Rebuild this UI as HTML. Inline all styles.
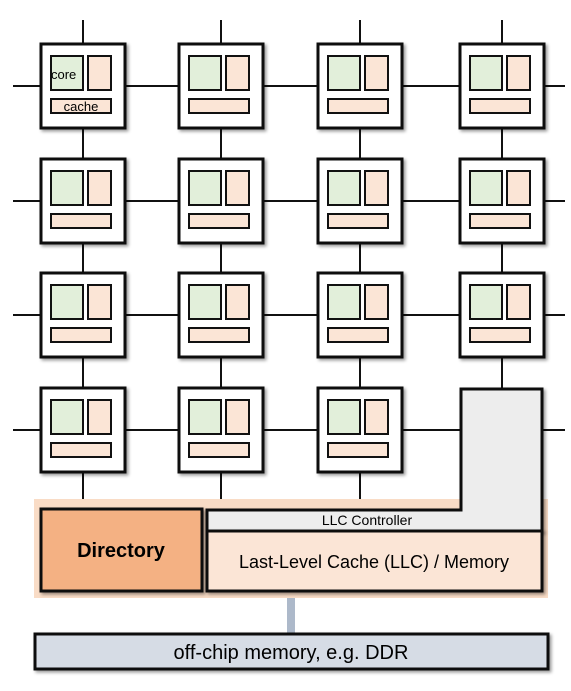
<!DOCTYPE html>
<html><head><style>body{margin:0;background:#fff}svg{display:block}</style></head><body>
<svg width="571" height="691" viewBox="0 0 571 691" xmlns="http://www.w3.org/2000/svg" font-family="'Liberation Sans', sans-serif">
<defs><filter id="s" x="-10%" y="-10%" width="130%" height="130%"><feDropShadow dx="2" dy="2" stdDeviation="1.5" flood-opacity="0.4"/></filter></defs>
<!-- grid lines -->
<g stroke="#111" stroke-width="2">
<line x1="13" y1="86" x2="565" y2="86"/>
<line x1="13" y1="201" x2="565" y2="201"/>
<line x1="13" y1="315" x2="565" y2="315"/>
<line x1="13" y1="430" x2="565" y2="430"/>
<line x1="83" y1="20" x2="83" y2="500"/>
<line x1="221" y1="20" x2="221" y2="500"/>
<line x1="360" y1="20" x2="360" y2="500"/>
<line x1="502" y1="20" x2="502" y2="390"/>
</g>
<!-- orange background -->
<rect x="34" y="499" width="514" height="99" fill="#f9dcc6"/>
<!-- tiles -->
<g id="tiles">
</g>
<script>
</script>
<g>
<!-- row loop expanded manually -->
</g>
<g stroke="#111">
<!-- tile template repeated -->
</g>
<g id="T">
</g>
<!-- Tiles -->
<g stroke="#111" stroke-width="3">
</g>
<g>
<g transform="translate(41,44)"><rect width="84" height="84" fill="#fff" stroke="#111" stroke-width="3" filter="url(#s)"/><rect x="10" y="12" width="32" height="34" fill="#e2efda" stroke="#111" stroke-width="2"/><rect x="47" y="12" width="23" height="34" fill="#fbe5d6" stroke="#111" stroke-width="2"/><rect x="10" y="55" width="60" height="14" fill="#fbe5d6" stroke="#111" stroke-width="2"/><text x="10" y="35" font-size="13">core</text><text x="40" y="67" font-size="13" text-anchor="middle">cache</text></g>
<g transform="translate(179,44)"><rect width="84" height="84" fill="#fff" stroke="#111" stroke-width="3" filter="url(#s)"/><rect x="10" y="12" width="32" height="34" fill="#e2efda" stroke="#111" stroke-width="2"/><rect x="47" y="12" width="23" height="34" fill="#fbe5d6" stroke="#111" stroke-width="2"/><rect x="10" y="55" width="60" height="14" fill="#fbe5d6" stroke="#111" stroke-width="2"/></g>
<g transform="translate(318,44)"><rect width="84" height="84" fill="#fff" stroke="#111" stroke-width="3" filter="url(#s)"/><rect x="10" y="12" width="32" height="34" fill="#e2efda" stroke="#111" stroke-width="2"/><rect x="47" y="12" width="23" height="34" fill="#fbe5d6" stroke="#111" stroke-width="2"/><rect x="10" y="55" width="60" height="14" fill="#fbe5d6" stroke="#111" stroke-width="2"/></g>
<g transform="translate(460,44)"><rect width="84" height="84" fill="#fff" stroke="#111" stroke-width="3" filter="url(#s)"/><rect x="10" y="12" width="32" height="34" fill="#e2efda" stroke="#111" stroke-width="2"/><rect x="47" y="12" width="23" height="34" fill="#fbe5d6" stroke="#111" stroke-width="2"/><rect x="10" y="55" width="60" height="14" fill="#fbe5d6" stroke="#111" stroke-width="2"/></g>

<g transform="translate(41,159)"><rect width="84" height="84" fill="#fff" stroke="#111" stroke-width="3" filter="url(#s)"/><rect x="10" y="12" width="32" height="34" fill="#e2efda" stroke="#111" stroke-width="2"/><rect x="47" y="12" width="23" height="34" fill="#fbe5d6" stroke="#111" stroke-width="2"/><rect x="10" y="55" width="60" height="14" fill="#fbe5d6" stroke="#111" stroke-width="2"/></g>
<g transform="translate(179,159)"><rect width="84" height="84" fill="#fff" stroke="#111" stroke-width="3" filter="url(#s)"/><rect x="10" y="12" width="32" height="34" fill="#e2efda" stroke="#111" stroke-width="2"/><rect x="47" y="12" width="23" height="34" fill="#fbe5d6" stroke="#111" stroke-width="2"/><rect x="10" y="55" width="60" height="14" fill="#fbe5d6" stroke="#111" stroke-width="2"/></g>
<g transform="translate(318,159)"><rect width="84" height="84" fill="#fff" stroke="#111" stroke-width="3" filter="url(#s)"/><rect x="10" y="12" width="32" height="34" fill="#e2efda" stroke="#111" stroke-width="2"/><rect x="47" y="12" width="23" height="34" fill="#fbe5d6" stroke="#111" stroke-width="2"/><rect x="10" y="55" width="60" height="14" fill="#fbe5d6" stroke="#111" stroke-width="2"/></g>
<g transform="translate(460,159)"><rect width="84" height="84" fill="#fff" stroke="#111" stroke-width="3" filter="url(#s)"/><rect x="10" y="12" width="32" height="34" fill="#e2efda" stroke="#111" stroke-width="2"/><rect x="47" y="12" width="23" height="34" fill="#fbe5d6" stroke="#111" stroke-width="2"/><rect x="10" y="55" width="60" height="14" fill="#fbe5d6" stroke="#111" stroke-width="2"/></g>

<g transform="translate(41,273)"><rect width="84" height="84" fill="#fff" stroke="#111" stroke-width="3" filter="url(#s)"/><rect x="10" y="12" width="32" height="34" fill="#e2efda" stroke="#111" stroke-width="2"/><rect x="47" y="12" width="23" height="34" fill="#fbe5d6" stroke="#111" stroke-width="2"/><rect x="10" y="55" width="60" height="14" fill="#fbe5d6" stroke="#111" stroke-width="2"/></g>
<g transform="translate(179,273)"><rect width="84" height="84" fill="#fff" stroke="#111" stroke-width="3" filter="url(#s)"/><rect x="10" y="12" width="32" height="34" fill="#e2efda" stroke="#111" stroke-width="2"/><rect x="47" y="12" width="23" height="34" fill="#fbe5d6" stroke="#111" stroke-width="2"/><rect x="10" y="55" width="60" height="14" fill="#fbe5d6" stroke="#111" stroke-width="2"/></g>
<g transform="translate(318,273)"><rect width="84" height="84" fill="#fff" stroke="#111" stroke-width="3" filter="url(#s)"/><rect x="10" y="12" width="32" height="34" fill="#e2efda" stroke="#111" stroke-width="2"/><rect x="47" y="12" width="23" height="34" fill="#fbe5d6" stroke="#111" stroke-width="2"/><rect x="10" y="55" width="60" height="14" fill="#fbe5d6" stroke="#111" stroke-width="2"/></g>
<g transform="translate(460,273)"><rect width="84" height="84" fill="#fff" stroke="#111" stroke-width="3" filter="url(#s)"/><rect x="10" y="12" width="32" height="34" fill="#e2efda" stroke="#111" stroke-width="2"/><rect x="47" y="12" width="23" height="34" fill="#fbe5d6" stroke="#111" stroke-width="2"/><rect x="10" y="55" width="60" height="14" fill="#fbe5d6" stroke="#111" stroke-width="2"/></g>

<g transform="translate(41,388)"><rect width="84" height="84" fill="#fff" stroke="#111" stroke-width="3" filter="url(#s)"/><rect x="10" y="12" width="32" height="34" fill="#e2efda" stroke="#111" stroke-width="2"/><rect x="47" y="12" width="23" height="34" fill="#fbe5d6" stroke="#111" stroke-width="2"/><rect x="10" y="55" width="60" height="14" fill="#fbe5d6" stroke="#111" stroke-width="2"/></g>
<g transform="translate(179,388)"><rect width="84" height="84" fill="#fff" stroke="#111" stroke-width="3" filter="url(#s)"/><rect x="10" y="12" width="32" height="34" fill="#e2efda" stroke="#111" stroke-width="2"/><rect x="47" y="12" width="23" height="34" fill="#fbe5d6" stroke="#111" stroke-width="2"/><rect x="10" y="55" width="60" height="14" fill="#fbe5d6" stroke="#111" stroke-width="2"/></g>
<g transform="translate(318,388)"><rect width="84" height="84" fill="#fff" stroke="#111" stroke-width="3" filter="url(#s)"/><rect x="10" y="12" width="32" height="34" fill="#e2efda" stroke="#111" stroke-width="2"/><rect x="47" y="12" width="23" height="34" fill="#fbe5d6" stroke="#111" stroke-width="2"/><rect x="10" y="55" width="60" height="14" fill="#fbe5d6" stroke="#111" stroke-width="2"/></g>
</g>
<!-- LLC controller L-shape -->
<path d="M461 389 H542 V531 H207 V510 H461 Z" fill="#ededed" stroke="#111" stroke-width="3" filter="url(#s)"/>
<text x="367" y="525" font-size="14" text-anchor="middle">LLC Controller</text>
<!-- LLC cache -->
<rect x="207" y="531" width="335" height="60" fill="#fbe5d6" stroke="#111" stroke-width="3" filter="url(#s)"/>
<text x="374" y="568" font-size="18" text-anchor="middle">Last-Level Cache (LLC)  /  Memory</text>
<!-- Directory -->
<rect x="41" y="509" width="161" height="82" fill="#f4b183" stroke="#111" stroke-width="3" filter="url(#s)"/>
<text x="121" y="557" font-size="20" font-weight="bold" text-anchor="middle">Directory</text>
<!-- connector -->
<rect x="287" y="598" width="8" height="36" fill="#adb9ca"/>
<!-- DDR -->
<rect x="35" y="634" width="513" height="35" fill="#d6dce5" stroke="#111" stroke-width="3" filter="url(#s)"/>
<text x="291" y="659" font-size="20" text-anchor="middle">off-chip memory, e.g. DDR</text>
</svg>
</body></html>
